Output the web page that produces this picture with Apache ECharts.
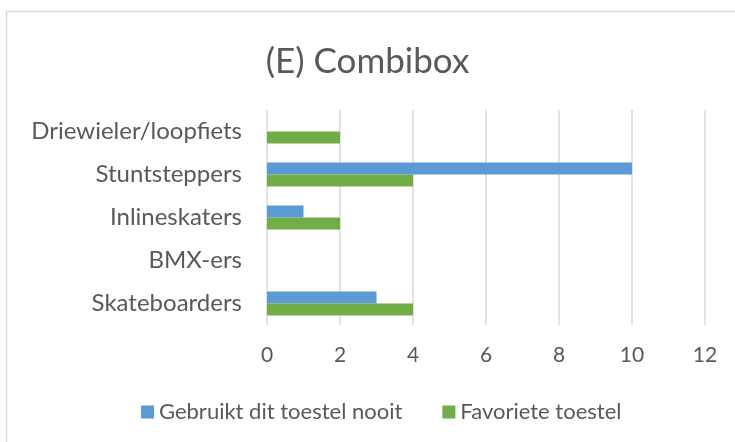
<!DOCTYPE html>
<html>
<head>
<meta charset="utf-8">
<script src="https://cdn.jsdelivr.net/npm/echarts@6/dist/echarts.min.js"></script>
<style>
  html, body { margin: 0; padding: 0; background: #fff; }
  #chart { width: 735px; height: 442px; }
</style>
</head>
<body>
<div id="chart"></div>
<script>
// data, bottom to top like the picture
var categories = ['Skateboarders', 'BMX-ers', 'Inlineskaters', 'Stuntsteppers', 'Driewieler/loopfiets'];
var nooit = [3, 0, 1, 10, 0];
var favoriet = [4, 0, 2, 4, 2];
var xTicks = [0, 2, 4, 6, 8, 10, 12];

var font = 'Lato';
var textColor = '#595959';

var myChart = echarts.init(document.getElementById('chart'));

var option = {
  animation: false,
  title: {
    text: '(E) Combibox',
    left: 'center',
    top: 39,
    textStyle: { fontFamily: font, fontSize: 35, fontWeight: 'normal', color: textColor }
  },
  graphic: [{
    type: 'rect',
    shape: { x: 6.5, y: 11.5, width: 760, height: 460 },
    style: { fill: 'none', stroke: '#d9d9d9', lineWidth: 1.5 },
    silent: true
  }],
  legend: {
    top: 396,
    left: 136,
    itemWidth: 13,
    itemHeight: 13,
    itemGap: 40,
    icon: 'rect',
    data: ['Gebruikt dit toestel nooit', 'Favoriete toestel'],
    textStyle: { fontFamily: font, fontSize: 22, color: textColor }
  },
  grid: { left: 267, right: 30, top: 110, bottom: 117 },
  xAxis: {
    type: 'value',
    min: xTicks[0],
    max: xTicks[xTicks.length - 1],
    interval: 2,
    axisLine: { show: false },
    axisTick: { show: false },
    splitLine: { lineStyle: { color: '#d9d9d9', width: 1.5 } },
    axisLabel: { fontFamily: font, fontSize: 21, color: textColor, margin: 20 }
  },
  yAxis: {
    type: 'category',
    data: categories,
    axisLine: { show: false },
    axisTick: { show: false },
    axisLabel: { fontFamily: font, fontSize: 24, color: textColor, margin: 25 }
  },
  series: [
    {
      name: 'Gebruikt dit toestel nooit',
      type: 'bar',
      data: nooit,
      barWidth: 12,
      barGap: '0%',
      itemStyle: { color: '#5b9bd5' }
    },
    {
      name: 'Favoriete toestel',
      type: 'bar',
      data: favoriet,
      barWidth: 12,
      barGap: '0%',
      itemStyle: { color: '#70ad47' }
    }
  ]
};

myChart.setOption(option);
</script>
</body>
</html>
